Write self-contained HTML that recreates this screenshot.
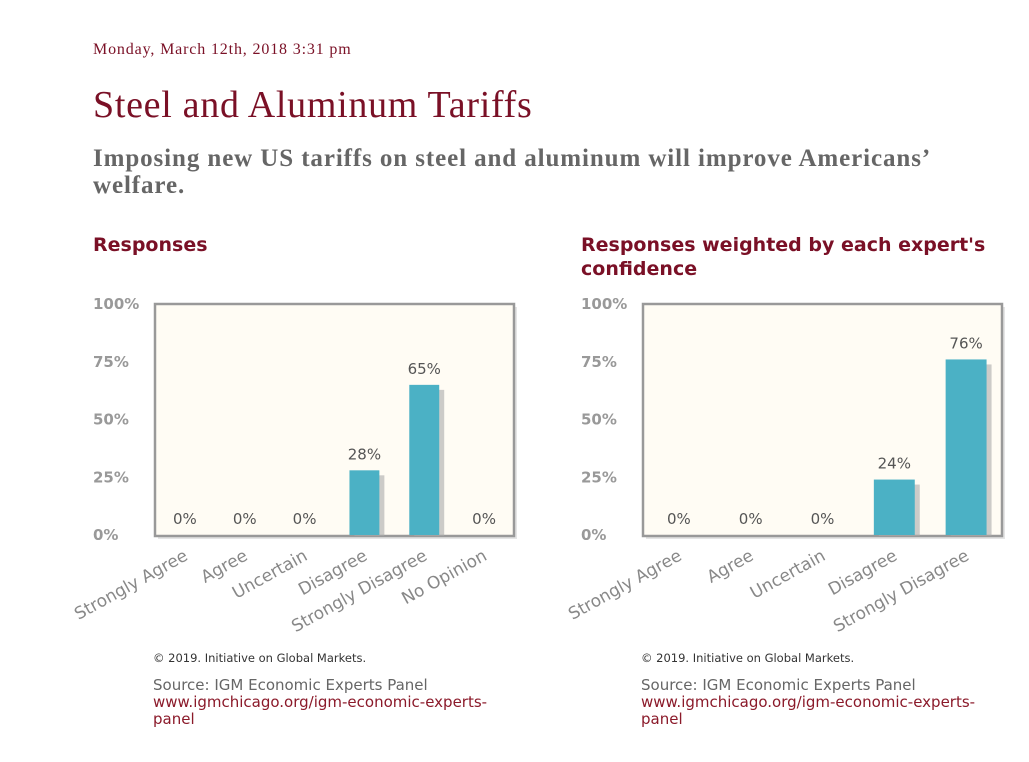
<!DOCTYPE html>
<html><head><meta charset="utf-8">
<style>
body{margin:0;width:1029px;height:762px;background:#fff;position:relative;overflow:hidden;font-family:"DejaVu Sans",sans-serif}
.abs{position:absolute;margin:0}
.date{left:93px;top:41px;font-family:"Liberation Serif",serif;font-size:16px;letter-spacing:0.85px;color:#7a1026}
.title{left:93px;top:83px;font-family:"Liberation Serif",serif;font-size:38px;letter-spacing:0.7px;color:#7a1026;font-weight:normal}
.q{left:93px;top:145px;width:920px;font-family:"Liberation Serif",serif;font-size:25px;letter-spacing:0.9px;font-weight:bold;color:#666;line-height:27px}
.h{font-size:19px;font-weight:bold;color:#7a1026;line-height:24px}
.copy{font-size:11.5px;color:#333}
.src{font-size:15px;color:#666;line-height:17px}
.src a{color:#8b1a2a;text-decoration:none}
</style></head><body>
<p class="abs date">Monday, March 12th, 2018 3:31 pm</p>
<h1 class="abs title">Steel and Aluminum Tariffs</h1>
<p class="abs q">Imposing new US tariffs on steel and aluminum will improve Americans’ welfare.</p>
<div class="abs h" style="left:93px;top:233px">Responses</div>
<div class="abs h" style="left:581px;top:233px;width:440px">Responses weighted by each expert's confidence</div>
<svg class="abs" style="left:0;top:0" width="1029" height="762" id="svg"></svg>
<div class="abs copy" style="left:153px;top:651px">© 2019. Initiative on Global Markets.</div>
<div class="abs src" style="left:153px;top:677px;width:360px">Source: IGM Economic Experts Panel<br><a>www.igmchicago.org/igm-economic-experts-<br>panel</a></div>
<div class="abs copy" style="left:641px;top:651px">© 2019. Initiative on Global Markets.</div>
<div class="abs src" style="left:641px;top:677px;width:360px">Source: IGM Economic Experts Panel<br><a>www.igmchicago.org/igm-economic-experts-<br>panel</a></div>
<script>
const cats1=["Strongly Agree","Agree","Uncertain","Disagree","Strongly Disagree","No Opinion"];
const vals1=[0,0,0,28,65,0];
const cats2=["Strongly Agree","Agree","Uncertain","Disagree","Strongly Disagree"];
const vals2=[0,0,0,24,76];
const ticks=[0,25,50,75,100];
const NS="http://www.w3.org/2000/svg";
const svg=document.getElementById('svg');
function mk(t,a,p){const e=document.createElementNS(NS,t);for(const k in a)e.setAttribute(k,a[k]);(p||svg).appendChild(e);return e;}
function chart(name,L,R,cats,vals,bw){
  const T=304,B=536;
  const g=mk('g',{});
  
  
  const y=v=>B-1-v/100*(B-1-T);
  const band=(R-L)/cats.length;
  const x=i=>L+band*(i+0.5);
  mk('rect',{x:L+3,y:T+3,width:R-L,height:B-T,fill:'#ccc',opacity:0.5},g);
  mk('rect',{x:L,y:T,width:R-L,height:B-T,fill:'#fffcf4',stroke:'#999','stroke-width':2.5},g);
  ticks.forEach(t=>{const e=mk('text',{x:L-62,y:y(t)+5,'font-size':15,'font-weight':'bold',fill:'#999','font-family':'DejaVu Sans, sans-serif'},g);e.textContent=t+'%';
    
    });
  vals.forEach((v,i)=>{const w=band*bw;
    if(v>0){mk('rect',{x:x(i)-w/2+5,y:y(v)+5,width:w,height:B-y(v)-5,fill:'#aaa',opacity:0.6},g);
    const r=mk('rect',{x:x(i)-w/2,y:y(v),width:w,height:B-1-y(v),fill:'#4bb1c5'},g);
    
    }
    const lt=mk('text',{x:x(i),y:v>0?y(v)-11:524,'text-anchor':'middle','font-size':15,fill:'#555','font-family':'DejaVu Sans, sans-serif'},g);lt.textContent=v+'%';
    
    
    const c=mk('text',{x:x(i)+4,y:559,'text-anchor':'end','font-size':17,fill:'#888','font-family':'DejaVu Sans, sans-serif',transform:`rotate(-29 ${x(i)+4} 559)`},g);c.textContent=cats[i];
    
    
  });
}
chart('responses-chart',155,514,cats1,vals1,0.5);
chart('weighted-chart',643,1002,cats2,vals2,0.57);
</script>
</body></html>
